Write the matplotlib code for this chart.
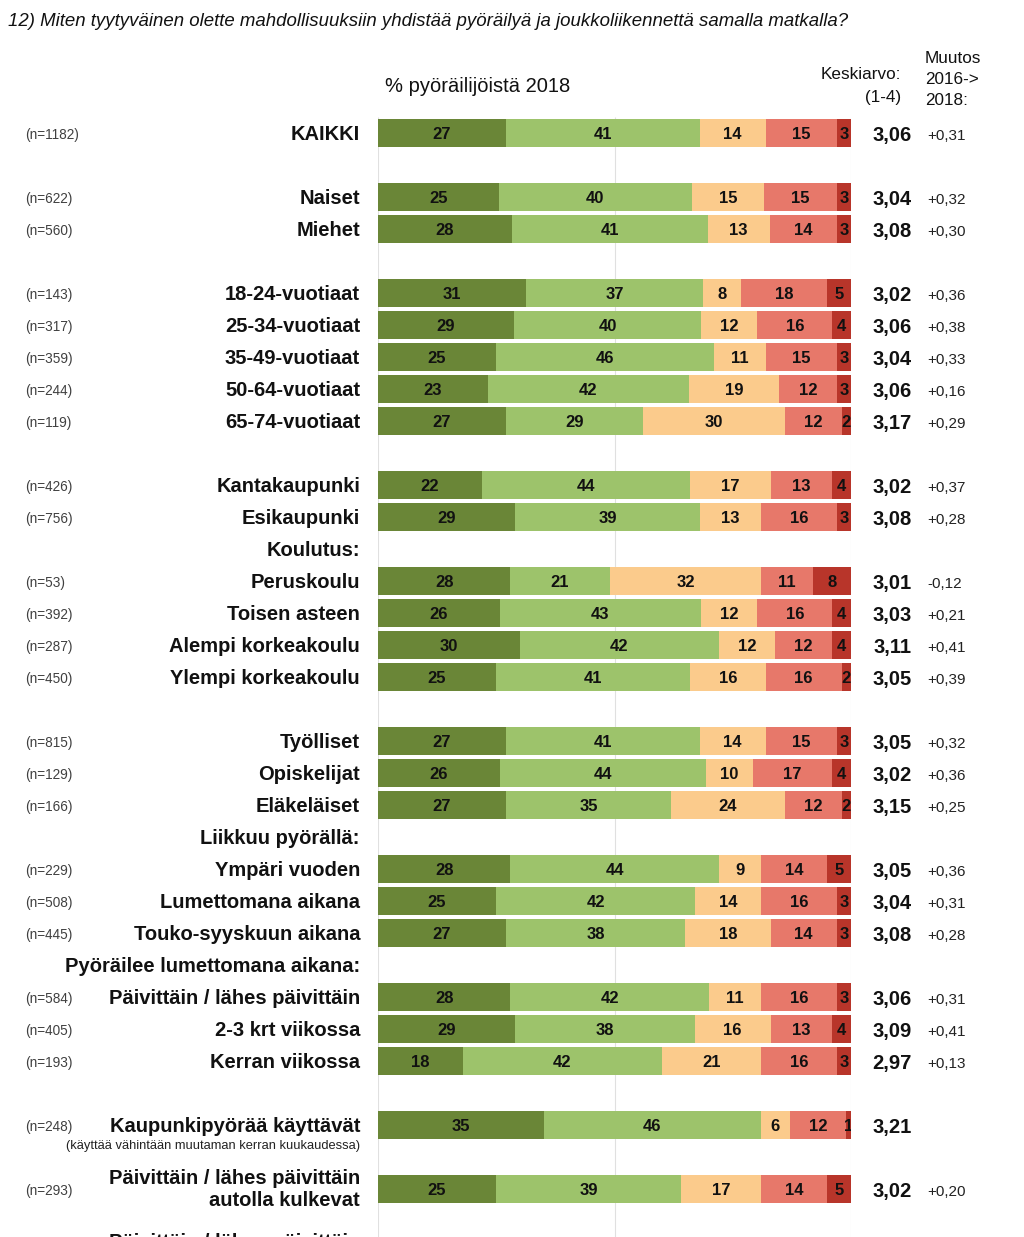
import matplotlib
matplotlib.use("Agg")
import matplotlib.pyplot as plt
import matplotlib.transforms as mtransforms
import numpy as np

plt.rcParams['font.family'] = ['Liberation Sans', 'DejaVu Sans']

title = "12) Miten tyytyväinen olette mahdollisuuksiin yhdistää pyöräilyä ja joukkoliikennettä samalla matkalla?"

labels = ["KAIKKI", "Naiset", "Miehet", "18-24-vuotiaat", "25-34-vuotiaat", "35-49-vuotiaat",
          "50-64-vuotiaat", "65-74-vuotiaat", "Kantakaupunki", "Esikaupunki", "Peruskoulu",
          "Toisen asteen", "Alempi korkeakoulu", "Ylempi korkeakoulu", "Työlliset", "Opiskelijat",
          "Eläkeläiset", "Ympäri vuoden", "Lumettomana aikana", "Touko-syyskuun aikana",
          "Päivittäin / lähes päivittäin", "2-3 krt viikossa", "Kerran viikossa",
          "Kaupunkipyörää käyttävät", "Päivittäin / lähes päivittäin\nautolla kulkevat"]
n_labels = ["(n=1182)", "(n=622)", "(n=560)", "(n=143)", "(n=317)", "(n=359)", "(n=244)", "(n=119)",
            "(n=426)", "(n=756)", "(n=53)", "(n=392)", "(n=287)", "(n=450)", "(n=815)", "(n=129)",
            "(n=166)", "(n=229)", "(n=508)", "(n=445)", "(n=584)", "(n=405)", "(n=193)",
            "(n=248)", "(n=293)"]
s1 = [27, 25, 28, 31, 29, 25, 23, 27, 22, 29, 28, 26, 30, 25, 27, 26, 27, 28, 25, 27, 28, 29, 18, 35, 25]
s2 = [41, 40, 41, 37, 40, 46, 42, 29, 44, 39, 21, 43, 42, 41, 41, 44, 35, 44, 42, 38, 42, 38, 42, 46, 39]
s3 = [14, 15, 13, 8, 12, 11, 19, 30, 17, 13, 32, 12, 12, 16, 14, 10, 24, 9, 14, 18, 11, 16, 21, 6, 17]
s4 = [15, 15, 14, 18, 16, 15, 12, 12, 13, 16, 11, 16, 12, 16, 15, 17, 12, 14, 16, 14, 16, 13, 16, 12, 14]
s5 = [3, 3, 3, 5, 4, 3, 3, 2, 4, 3, 8, 4, 4, 2, 3, 4, 2, 5, 3, 3, 3, 4, 3, 1, 5]
means = ["3,06", "3,04", "3,08", "3,02", "3,06", "3,04", "3,06", "3,17", "3,02", "3,08", "3,01",
         "3,03", "3,11", "3,05", "3,05", "3,02", "3,15", "3,05", "3,04", "3,08", "3,06", "3,09",
         "2,97", "3,21", "3,02"]
changes = ["+0,31", "+0,32", "+0,30", "+0,36", "+0,38", "+0,33", "+0,16", "+0,29", "+0,37", "+0,28",
           "-0,12", "+0,21", "+0,41", "+0,39", "+0,32", "+0,36", "+0,25", "+0,36", "+0,31", "+0,28",
           "+0,31", "+0,41", "+0,13", "", "+0,20"]
section_labels = ["Koulutus:", "Liikkuu pyörällä:", "Pyöräilee lumettomana aikana:"]
cut_label = "Päivittäin / lähes päivittäin"
sub_note = "(käyttää vähintään muutaman kerran kuukaudessa)"

# layout (row slots)
row_pos = [0, 2, 3, 5, 6, 7, 8, 9, 11, 12, 14, 15, 16, 17, 19, 20, 21, 23, 24, 25, 27, 28, 29, 31, 33]
section_pos = [13, 22, 26]
colors = ['#6a8637', '#9dc36b', '#fbcb8c', '#e7786a', '#b8352a']

W, H = 1024, 1237
fig = plt.figure(figsize=(W / 100, H / 100), dpi=100)
ax = fig.add_axes([378 / W, 0, 473 / W, 1])
top_s = -133 / 32
bot_s = (H - 133) / 32
ax.set_ylim(bot_s, top_s)
ax.set_xlim(0, 100)
ax.axis('off')

for gx in [0, 50, 100]:
    ax.vlines(gx, -0.5, bot_s, color='#e0e0e0', lw=0.8, zorder=0)

series = np.array([s1, s2, s3, s4, s5], dtype=float)
totals = series.sum(axis=0)
norm = series / totals * 100
left = np.zeros(len(labels))
for k in range(5):
    ax.barh(row_pos, norm[k], left=left, height=0.86, color=colors[k], edgecolor='none', zorder=2)
    for i in range(len(labels)):
        ax.text(left[i] + norm[k][i] / 2, row_pos[i], str(int(series[k][i])), ha='center',
                va='center_baseline', fontsize=12, fontweight='bold', color='#111111', zorder=3,
                clip_on=True)
    left += norm[k]

tr = mtransforms.blended_transform_factory(fig.transFigure, ax.transData)
for i, lab in enumerate(labels):
    y = row_pos[i]
    ax.text(25 / W, y, n_labels[i], transform=tr, ha='left', va='center_baseline', fontsize=9.8,
            color='#404040')
    ax.text(360 / W, y, lab, transform=tr, ha='right', va='center_baseline' if '\n' not in lab else 'center',
            fontsize=14.5, fontweight='bold', color='#111111', linespacing=1.2)
    ax.text(892 / W, y, means[i], transform=tr, ha='center', va='center_baseline', fontsize=14.5,
            fontweight='bold', color='#111111')
    ax.text(927 / W, y + 0.05, changes[i], transform=tr, ha='left', va='center_baseline', fontsize=11,
            color='#222222')

for lab, y in zip(section_labels, section_pos):
    ax.text(360 / W, y, lab, transform=tr, ha='right', va='center_baseline', fontsize=14.5,
            fontweight='bold', color='#111111')

ax.text(360 / W, 31.6, sub_note, transform=tr, ha='right', va='center_baseline', fontsize=9.3,
        color='#222222')
ax.text(360 / W, 34.6, cut_label, transform=tr, ha='right', va='center_baseline',
        fontsize=14.5, fontweight='bold', color='#111111')

fig.text(8 / W, 1 - 20 / H, title, ha='left', va='center_baseline', fontsize=13.4, style='italic',
         color='#111111')
fig.text(478 / W, 1 - 85 / H, "% pyöräilijöistä 2018", ha='center', va='center_baseline',
         fontsize=14.5, color='#111111')
fig.text(901 / W, 1 - 73 / H, "Keskiarvo:", ha='right', va='center_baseline', fontsize=12.3,
         color='#111111')
fig.text(901 / W, 1 - 96 / H, "(1-4)", ha='right', va='center_baseline', fontsize=12.3, color='#111111')
fig.text(925 / W, 1 - 57 / H, "Muutos", ha='left', va='center_baseline', fontsize=12.3, color='#111111')
fig.text(925 / W, 1 - 78 / H, "2016->", ha='left', va='center_baseline', fontsize=12.3, color='#111111')
fig.text(925 / W, 1 - 99 / H, "2018:", ha='left', va='center_baseline', fontsize=12.3, color='#111111')

fig.savefig("out.png", dpi=100, facecolor='white')
